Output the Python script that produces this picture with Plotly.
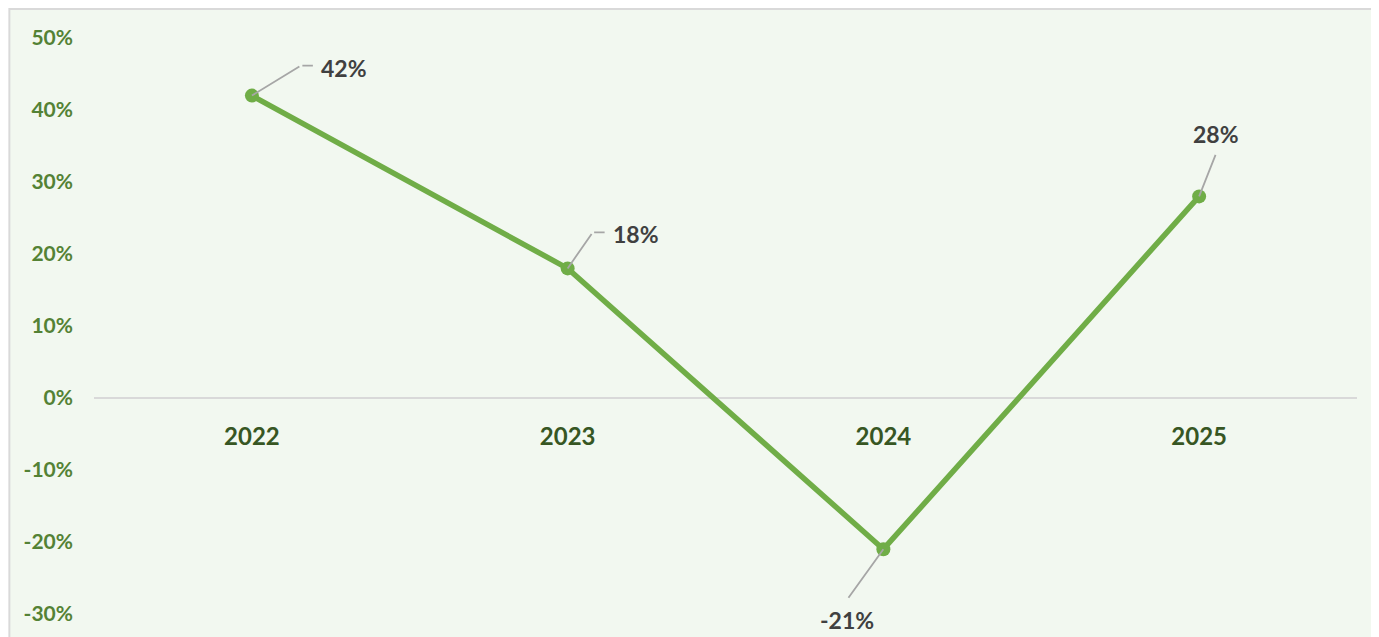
import plotly.graph_objects as go

years = ["2022", "2023", "2024", "2025"]
growth = [0.42, 0.18, -0.21, 0.28]
labels = ["42%", "18%", "-21%", "28%"]
ytick_vals = [-0.3, -0.2, -0.1, 0.0, 0.1, 0.2, 0.3, 0.4, 0.5]
ytick_text = ["-30%", "-20%", "-10%", "0%", "10%", "20%", "30%", "40%", "50%"]

# label placement (pixel offsets): elbow of leader line, horizontal tail, text centre
elbow = [(49, -30), (25, -36), (-36, 50), (17, -43)]
tail = [12, 12, 0, 0]
text_shift = [(92, 28), (68, 34), (-36, -71), (17, 62)]

LINE_GREEN = "#70AD47"
TICK_GREEN = "#548235"
CAT_GREEN = "#375623"
LABEL_GREY = "#404040"
LEADER = "#A6A6A6"
FONT = "Lato"

fig = go.Figure()
fig.add_trace(go.Scatter(
    x=years, y=growth, mode="lines+markers",
    line=dict(color=LINE_GREEN, width=5.5),
    marker=dict(color=LINE_GREEN, size=14),
    hoverinfo="skip", showlegend=False,
))

ann = []
for i, v in enumerate(growth):
    ex, ey = elbow[i]
    ann.append(dict(x=i, y=v, xref="x", yref="y", text="", showarrow=True,
                    arrowhead=0, arrowwidth=1.8, arrowcolor=LEADER,
                    ax=ex, ay=ey, standoff=0, startstandoff=0))
    if tail[i]:
        ann.append(dict(x=i, y=v, xref="x", yref="y", text="", showarrow=True,
                        arrowhead=0, arrowwidth=1.8, arrowcolor=LEADER,
                        xshift=ex + tail[i], yshift=-ey, ax=-tail[i], ay=0,
                        standoff=0, startstandoff=0))
    tx, ty = text_shift[i]
    ann.append(dict(x=i, y=v, xref="x", yref="y", text="<b>%s</b>" % labels[i],
                    showarrow=False, xshift=tx, yshift=ty,
                    font=dict(family=FONT, size=23, color=LABEL_GREY)))

ymin, ymax = -0.3, 0.5

# page body has an 8px margin; compensate so the figure fills the 1379x637 view
fig.update_layout(
    width=1371, height=629,
    margin=dict(l=86, r=22, t=30, b=17),
    paper_bgcolor="white",
    plot_bgcolor="#EEF6EA",
    font=dict(family=FONT),
    annotations=ann,
    shapes=[dict(type="rect", xref="paper", yref="paper", layer="below",
                 x0=-0.0670, x1=1.1, y0=-0.1, y1=1.0505,
                 fillcolor="#F2F8F0", line=dict(color="#D9D9D9", width=2))],
    xaxis=dict(
        type="category", range=[-0.5, 3.5],
        anchor="free", position=(0 - ymin) / (ymax - ymin),
        showline=False, showgrid=False, zeroline=False, ticks="",
        ticklabelstandoff=22,
        tickfont=dict(family=FONT, size=24, color=CAT_GREEN, weight="bold"),
    ),
    yaxis=dict(
        range=[ymin, ymax], tickvals=ytick_vals, ticktext=ytick_text,
        showgrid=False, zeroline=True, zerolinecolor="#D9D9D9", zerolinewidth=2,
        showline=False, ticks="", ticklabelstandoff=20,
        tickfont=dict(family=FONT, size=21, color=TICK_GREEN, weight="bold"),
    ),
)

fig.write_html("out.html")
